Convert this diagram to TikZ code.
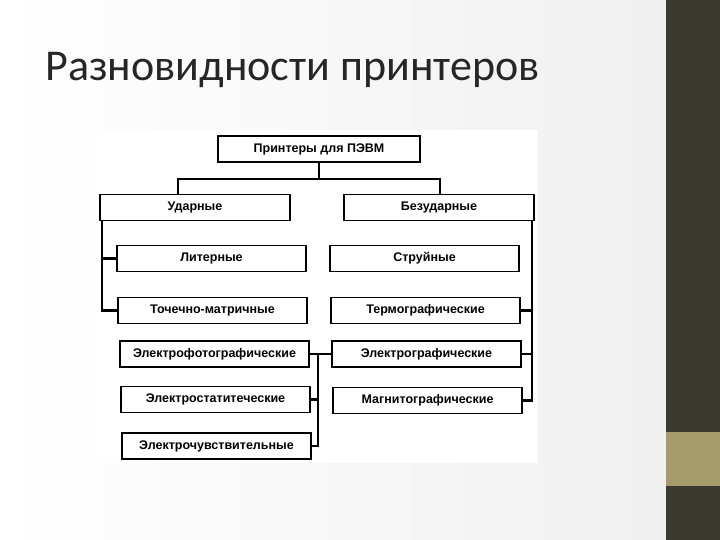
\documentclass[tikz,border=0pt]{standalone}
\usepackage{fontspec}
\setmainfont{Liberation Sans}
\newfontfamily\titlefont{Carlito}
\definecolor{barc}{HTML}{3C3931}
\definecolor{tanc}{HTML}{A89B6B}
\begin{document}
\begin{tikzpicture}[x=1pt,y=-1pt,
  bx/.style={draw=black,line width=1.3pt,fill=white,minimum height=26pt,inner sep=0pt,font=\bfseries\fontsize{12.5}{14}\selectfont},
  ln/.style={line width=2.2pt}]
\useasboundingbox (0,0) rectangle (720,540);
\fill[left color=white,right color=black!6] (0,0) rectangle (666,540);
\fill[barc] (666,0) rectangle (720,540);
\fill[tanc] (666,432) rectangle (720,486);
\node[anchor=west,font=\titlefont\fontsize{44}{50}\selectfont,text=black!85] (t) at (42,70) {Разновидности принтеров};
\fill[white] (95,130) rectangle (538,463);
\node[bx,minimum width=202pt] (top) at (319,149) {Принтеры для ПЭВМ};
\node[bx,minimum width=190pt] (ud) at (195,207.5) {Ударные};
\node[bx,minimum width=190pt] (bez) at (439,207.5) {Безударные};
\node[bx,minimum width=189pt] (lit) at (211.5,258.5) {Литерные};
\node[bx,minimum width=189pt] (toch) at (212.5,310.5) {Точечно-матричные};
\node[bx,minimum width=189pt] (str) at (424.5,258.5) {Струйные};
\node[bx,minimum width=189pt] (term) at (425.5,310.5) {Термографические};
\node[bx,minimum width=189pt] (egr) at (426.5,354) {Электрографические};
\node[bx,minimum width=189pt] (mag) at (427.5,400.5) {Магнитографические};
\node[bx,minimum width=189pt] (efoto) at (214.5,354) {Электрофотографические};
\node[bx,minimum width=189pt] (estat) at (215.5,399.5) {Электростатитеческие};
\node[bx,minimum width=189pt] (echu) at (216.5,446) {Электрочувствительные};
\draw[ln] (top.south) -- ++(0,16) coordinate (h) (ud.north -| 178,0) |- (h) -| (bez.north -| 440,0);
\draw[ln] (ud.south west) ++(3,0) coordinate (lv) |- (toch.west);
\draw[ln] (lv |- lit.west) -- (lit.west);
\draw[ln] (bez.south east) ++(-3,0) coordinate (rv) |- (mag.east);
\draw[ln] (rv |- term.east) -- (term.east);
\draw[ln] (rv |- egr.east) -- (egr.east);
\draw[ln] (egr.west) -- (efoto.east);
\draw[ln] (318,354) |- (echu.east);
\draw[ln] (318,399.5) -- (estat.east);
\end{tikzpicture}
\end{document}
